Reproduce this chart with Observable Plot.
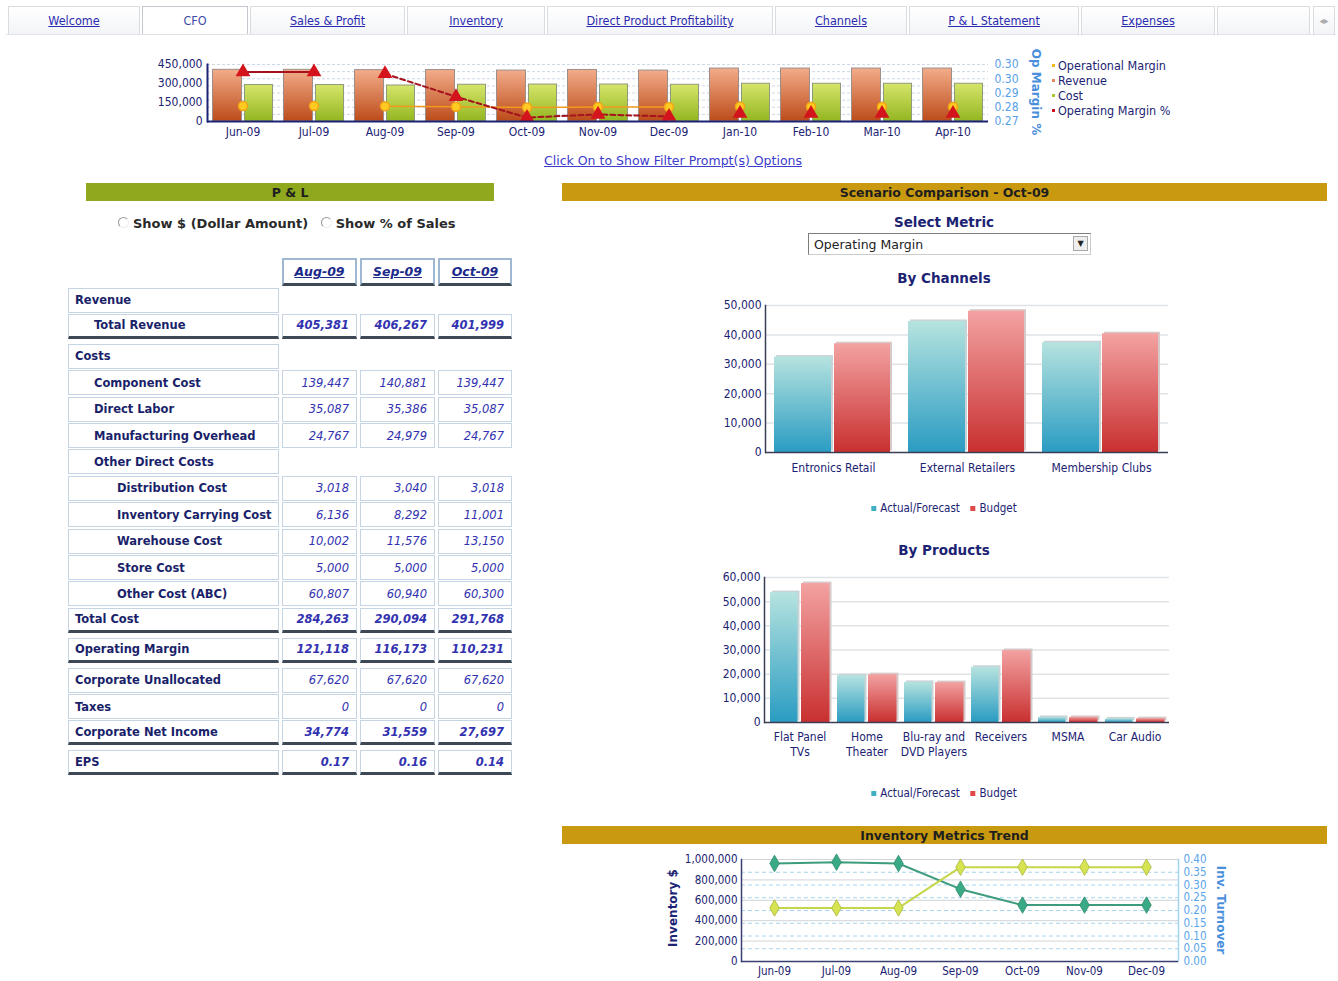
<!DOCTYPE html>
<html>
<head>
<meta charset="utf-8">
<script src="https://cdn.jsdelivr.net/npm/d3@7"></script>
<script src="https://cdn.jsdelivr.net/npm/@observablehq/plot@0.6"></script>
<style>
:root{--narrow:"Liberation Sans Narrow","DejaVu Sans Condensed","Roboto Condensed","Arial Narrow",Roboto,sans-serif;}
html,body{margin:0;padding:0;background:#fff;}
body{width:1338px;height:981px;position:relative;overflow:hidden;font-family:"DejaVu Sans",Verdana,sans-serif;}
.abs{position:absolute;}
.tab{position:absolute;top:6px;height:29px;box-sizing:border-box;border:1px solid #d9dde2;background:linear-gradient(#ffffff,#f2f4f6);display:flex;align-items:center;justify-content:center;font-family:var(--narrow);font-size:12.5px;color:#2b2bb0;}
.tab span{text-decoration:underline;}
.tab.sel{background:#fff;border-color:#c2c8ce;border-bottom-color:#fff;color:#3b4aa6;}
.tab.sel span{text-decoration:none;}
.hbar{position:absolute;height:18px;display:flex;align-items:center;justify-content:center;font-weight:bold;font-size:12.5px;color:#1e1e1e;}
.cell{position:absolute;box-sizing:border-box;height:25px;border:1px solid #c6d5e4;background:#fff;display:flex;align-items:center;color:#1a1f6a;}
.lab{font-weight:bold;font-size:11.5px;}
.val{justify-content:flex-end;padding-right:7px;font-style:italic;font-size:11.5px;color:#3232b0;}
.tot{border-bottom:3px solid #3f4855;}
.title{position:absolute;font-weight:bold;font-size:13.5px;color:#1b2372;transform:translate(-50%,-50%);white-space:nowrap;}
.leg{position:absolute;font-family:var(--narrow);font-size:11.5px;color:#1b2372;transform:translate(-50%,-50%);white-space:nowrap;display:flex;align-items:center;gap:4px;}
.sw{display:inline-block;width:5px;height:5px;}
.rot{position:absolute;white-space:nowrap;font-weight:bold;font-size:12px;}
</style>
</head>
<body>
<div id="tabs"></div>
<div id="topChart" class="abs" style="left:150px;top:52px;width:890px;height:92px;"></div>
<div id="topLegend" class="abs" style="left:1052px;top:58px;width:140px;"></div>
<div class="abs" style="left:0;width:1338px;top:153px;text-align:center;font-size:12.5px;color:#3b3bcc;"><span style="text-decoration:underline;position:relative;left:4px;">Click On to Show Filter Prompt(s) Options</span></div>

<div class="hbar" style="left:86px;top:183px;width:408px;background:#8fa81d;">P &amp; L</div>
<div class="abs" style="left:118px;top:216px;font-weight:bold;font-size:13px;color:#2a2a2a;white-space:nowrap;">
  <span style="display:inline-block;width:9px;height:9px;border-radius:50%;border:1px solid #999;border-right-color:#eee;border-bottom-color:#eee;margin-right:4px;"></span>Show $ (Dollar Amount)
  <span style="display:inline-block;width:9px;height:9px;border-radius:50%;border:1px solid #999;border-right-color:#eee;border-bottom-color:#eee;margin:0 4px 0 8px;"></span>Show % of Sales
</div>
<div id="pl"></div>

<div class="hbar" style="left:562px;top:183px;width:765px;background:#c9990f;">Scenario Comparison - Oct-09</div>
<div class="title" style="left:944px;top:222px;">Select Metric</div>
<div class="abs" style="left:808px;top:233px;width:283px;height:22px;box-sizing:border-box;border:1px solid #7d7d7d;border-right-color:#ccc;border-bottom-color:#ccc;background:#fff;font-size:12.5px;color:#222;display:flex;align-items:center;padding-left:5px;">Operating Margin
  <div style="position:absolute;right:2px;top:2px;width:15px;height:15px;box-sizing:border-box;border:1px solid #aaa;background:#eee;font-size:8px;display:flex;align-items:center;justify-content:center;">▼</div>
</div>
<div class="title" style="left:944px;top:278px;">By Channels</div>
<div id="chChart" class="abs" style="left:700px;top:290px;width:480px;height:190px;"></div>
<div id="chLegend"></div>
<div class="title" style="left:944px;top:550px;">By Products</div>
<div id="prChart" class="abs" style="left:700px;top:560px;width:480px;height:205px;"></div>
<div id="prLegend"></div>

<div class="hbar" style="left:562px;top:826px;width:765px;background:#c9990f;">Inventory Metrics Trend</div>
<div id="invChart" class="abs" style="left:600px;top:848px;width:640px;height:133px;"></div>
<div id="labels"></div>

<script>
const NAVY = "#1b2372";
const NARROW = `"Liberation Sans Narrow","DejaVu Sans Condensed","Roboto Condensed","Arial Narrow",Roboto,sans-serif`;

// ---------------- data ----------------
const tabs = ["Welcome", "CFO", "Sales & Profit", "Inventory", "Direct Product Profitability", "Channels", "P & L Statement", "Expenses"];
const selectedTab = "CFO";

const months = ["Jun-09", "Jul-09", "Aug-09", "Sep-09", "Oct-09", "Nov-09", "Dec-09", "Jan-10", "Feb-10", "Mar-10", "Apr-10"];
const revenue = [408000, 408000, 405381, 406267, 401999, 407000, 402000, 418000, 418000, 418000, 418000];
const cost = [288000, 288000, 284263, 290094, 291768, 292000, 290000, 298000, 298000, 298000, 298000];
const operationalMargin = [122000, 122000, 121118, 116173, 110231, 114000, 114000, 118000, 116000, 116000, 116000];
const operatingMarginPct = [0.2998, 0.2998, 0.2988, 0.2859, 0.2742, 0.2760, 0.2748, 0.2765, 0.2765, 0.2765, 0.2765];
const topLegend = ["Operational Margin", "Revenue", "Cost", "Operating Margin %"];
const revenueTicks = [0, 150000, 300000, 450000];

const plPeriods = ["Aug-09", "Sep-09", "Oct-09"];
const plLabels = ["Revenue", "Total Revenue", "Costs", "Component Cost", "Direct Labor", "Manufacturing Overhead", "Other Direct Costs", "Distribution Cost", "Inventory Carrying Cost", "Warehouse Cost", "Store Cost", "Other Cost (ABC)", "Total Cost", "Operating Margin", "Corporate Unallocated", "Taxes", "Corporate Net Income", "EPS"];
const plLevel = [0, 1, 0, 1, 1, 1, 1, 2, 2, 2, 2, 2, 0, 0, 0, 0, 0, 0];
const plTotal = [false, true, false, false, false, false, false, false, false, false, false, false, true, true, false, false, true, true];
const plAug = [null, 405381, null, 139447, 35087, 24767, null, 3018, 6136, 10002, 5000, 60807, 284263, 121118, 67620, 0, 34774, 0.17];
const plSep = [null, 406267, null, 140881, 35386, 24979, null, 3040, 8292, 11576, 5000, 60940, 290094, 116173, 67620, 0, 31559, 0.16];
const plOct = [null, 401999, null, 139447, 35087, 24767, null, 3018, 11001, 13150, 5000, 60300, 291768, 110231, 67620, 0, 27697, 0.14];

const seriesNames = ["Actual/Forecast", "Budget"];
const channels = ["Entronics Retail", "External Retailers", "Membership Clubs"];
const channelActual = [32450, 44570, 37340];
const channelBudget = [37000, 48070, 40400];
const channelTicks = [0, 10000, 20000, 30000, 40000, 50000];

const products = ["Flat Panel\nTVs", "Home\nTheater", "Blu-ray and\nDVD Players", "Receivers", "MSMA", "Car Audio"];
const productActual = [53760, 19400, 16600, 22850, 2100, 1500];
const productBudget = [57500, 19800, 16500, 29800, 2100, 1600];
const productTicks = [0, 10000, 20000, 30000, 40000, 50000, 60000];

const invMonths = ["Jun-09", "Jul-09", "Aug-09", "Sep-09", "Oct-09", "Nov-09", "Dec-09"];
const inventory = [961000, 974000, 961000, 709000, 553000, 553000, 553000];
const turnover = [0.21, 0.21, 0.21, 0.37, 0.37, 0.37, 0.37];
const inventoryTicks = [0, 200000, 400000, 600000, 800000, 1000000];
const turnoverTicks = [0, 0.05, 0.10, 0.15, 0.20, 0.25, 0.30, 0.35, 0.40];

// ---------------- helpers ----------------
function addDefs(svg, html) {
  const defs = document.createElementNS("http://www.w3.org/2000/svg", "defs");
  defs.innerHTML = html;
  svg.insertBefore(defs, svg.firstChild);
}
function vgrad(id, top, bottom) {
  return `<linearGradient id="${id}" x1="0" y1="0" x2="0" y2="1"><stop offset="0" stop-color="${top}"/><stop offset="1" stop-color="${bottom}"/></linearGradient>`;
}
function rotLabel(text, cx, cy, deg, color) {
  const d = document.createElement("div");
  d.className = "rot";
  d.textContent = text;
  d.style.left = cx + "px"; d.style.top = cy + "px"; d.style.color = color;
  d.style.transform = `translate(-50%,-50%) rotate(${deg}deg)`;
  document.getElementById("labels").appendChild(d);
}
function legend(id, cx, cy) {
  const el = document.getElementById(id);
  el.className = "leg";
  el.style.left = cx + "px"; el.style.top = cy + "px";
  el.innerHTML = `<span class="sw" style="background:#3fb0c4"></span>${seriesNames[0]}&nbsp;&nbsp;<span class="sw" style="background:#e04848"></span>${seriesNames[1]}`;
}

// ---------------- tabs ----------------
const tabLayout = [[8, 132], [142, 106], [250, 155], [407, 138], [547, 226], [775, 132], [909, 170], [1081, 134]];
const tabsEl = document.getElementById("tabs");
tabs.forEach((t, i) => {
  const d = document.createElement("div");
  d.className = "tab" + (t === selectedTab ? " sel" : "");
  d.style.left = tabLayout[i][0] + "px"; d.style.width = tabLayout[i][1] + "px";
  const s = document.createElement("span"); s.textContent = t; d.appendChild(s);
  tabsEl.appendChild(d);
});
{
  const f = document.createElement("div"); f.className = "tab";
  f.style.left = "1217px"; f.style.width = "93px"; tabsEl.appendChild(f);
  const sc = document.createElement("div"); sc.className = "tab";
  sc.style.left = "1313px"; sc.style.width = "22px"; sc.style.color = "#aaa"; sc.style.fontSize = "10px";
  sc.textContent = "◂▸"; tabsEl.appendChild(sc);
  const line = document.createElement("div"); line.className = "abs";
  Object.assign(line.style, {left: "6px", top: "34px", width: "1330px", height: "1px", background: "#dfe2e6"});
  tabsEl.appendChild(line);
}

// ---------------- top chart ----------------
const topRows = months.map((m, i) => ({month: m, revenue: revenue[i], cost: cost[i], margin: operationalMargin[i], pct: operatingMarginPct[i]}));
const yTop = revenueTicks[revenueTicks.length - 1];
const pctDomain = [0.272, 0.304];
const pctY = p => (p - pctDomain[0]) / (pctDomain[1] - pctDomain[0]) * yTop;
const pctTicks = d3.range(5).map(i => pctDomain[0] + i * (pctDomain[1] - pctDomain[0]) / 4);

const topChart = Plot.plot({
  width: 890, height: 92, marginLeft: 57, marginRight: 52, marginTop: 12, marginBottom: 23,
  style: {background: "transparent", fontFamily: NARROW, fontSize: "12px", overflow: "visible"},
  x: {domain: months, padding: 0},
  y: {domain: [0, yTop]},
  marks: [
    Plot.ruleY([...pctTicks.map(pctY), 56250, 168750, 281250, 393750], {stroke: "#ccd8e6", strokeDasharray: "3,2"}),
    Plot.barY(topRows, {x: "month", y: "revenue", fill: "url(#revGrad)", stroke: "#9c8e8a", insetLeft: 5.5, insetRight: 36.5}),
    Plot.barY(topRows, {x: "month", y: "cost", fill: "url(#costGrad)", stroke: "#8f9a7c", insetLeft: 37.5, insetRight: 5.5}),
    Plot.line(topRows.slice(2, 7), {x: "month", y: "margin", stroke: "#f29a1e", strokeWidth: 1.5}),
    Plot.line(topRows.slice(0, 2), {x: "month", y: d => pctY(d.pct), stroke: "#a5121e", strokeWidth: 2}),
    Plot.line(topRows.slice(2, 7), {x: "month", y: d => pctY(d.pct), stroke: "#a5121e", strokeWidth: 2, strokeDasharray: "5,3"}),
    Plot.dot(topRows, {x: "month", y: "margin", r: 4.5, fill: "#ffcb22", stroke: "#f2a416"}),
    Plot.dot(topRows, {x: "month", y: d => pctY(d.pct), symbol: "triangle", r: 5.5, fill: "#d3141d"}),
    Plot.ruleY([0], {stroke: NAVY, strokeWidth: 2}),
    Plot.frame({anchor: "left", stroke: NAVY, strokeWidth: 2}),
    Plot.axisY(revenueTicks, {anchor: "left", tickSize: 0, tickPadding: 5, tickFormat: d3.format(","), label: null, fill: NAVY}),
    Plot.axisY(pctTicks.map(pctY), {anchor: "right", tickSize: 0, tickPadding: 6, label: null, fill: "#58a0e8",
      tickFormat: d => d3.format(".2f")(pctDomain[0] + d / yTop * (pctDomain[1] - pctDomain[0]))}),
    Plot.axisX({tickSize: 0, tickPadding: 6, label: null, fill: NAVY})
  ]
});
addDefs(topChart, vgrad("revGrad", "#f3ac8a", "#bc4c1a") + vgrad("costGrad", "#d6e56a", "#93b620"));
document.getElementById("topChart").appendChild(topChart);

const legColors = ["#f2b61e", "#e8875a", "#a6c832", "#c8141d"];
document.getElementById("topLegend").innerHTML = topLegend.map((t, i) =>
  `<div style="height:15px;display:flex;align-items:center;font-family:${NARROW.replace(/"/g, "'")};font-size:12.5px;color:${NAVY};white-space:nowrap;"><span style="display:inline-block;width:3px;height:3px;background:${legColors[i]};margin-right:3px;"></span>${t}</div>`).join("");
rotLabel("Op Margin %", 1036, 92, 90, "#4a8fdc");

// ---------------- P&L table ----------------
const pl = document.getElementById("pl");
const colX = [282, 360, 438], colW = [75, 75, 74];
const plCols = [plAug, plSep, plOct];
plPeriods.forEach((p, j) => {
  const c = document.createElement("div");
  c.className = "cell tot";
  Object.assign(c.style, {left: colX[j] + "px", top: "258px", width: colW[j] + "px", height: "28px", justifyContent: "center",
    fontWeight: "bold", fontStyle: "italic", textDecoration: "underline", fontSize: "12.5px", color: "#1c2a8a", borderColor: "#9fb8d2", borderBottomColor: "#3f4855", borderWidth: "2px 2px 3px 2px"});
  c.textContent = p;
  pl.appendChild(c);
});
let thick = 0;
plLabels.forEach((lab, i) => {
  const top = 287.5 + i * 26.4 + thick * 3.5;
  const l = document.createElement("div");
  l.className = "cell lab" + (plTotal[i] ? " tot" : "");
  Object.assign(l.style, {left: "68px", top: top + "px", width: "211px", paddingLeft: (6 + plLevel[i] * 19 + (plLevel[i] === 2 ? 4 : 0)) + "px"});
  l.textContent = lab;
  pl.appendChild(l);
  plCols.forEach((col, j) => {
    const v = col[i];
    if (v === null) return;
    const c = document.createElement("div");
    c.className = "cell val" + (plTotal[i] ? " tot" : "");
    Object.assign(c.style, {left: colX[j] + "px", top: top + "px", width: colW[j] + "px", fontWeight: plTotal[i] ? "bold" : "normal"});
    c.textContent = lab === "EPS" ? v.toFixed(2) : d3.format(",")(v);
    pl.appendChild(c);
  });
  if (plTotal[i]) thick++;
});

// ---------------- grouped bar charts ----------------
function groupedBars(el, cats, actual, budget, ticks, o) {
  const rows = cats.map((c, i) => ({cat: c, actual: actual[i], budget: budget[i]}));
  const chart = Plot.plot({
    width: o.width, height: o.height, marginLeft: o.ml, marginRight: o.mr, marginTop: o.mt, marginBottom: o.mb,
    style: {background: "transparent", fontFamily: NARROW, fontSize: "12px", overflow: "visible"},
    x: {domain: cats, padding: 0},
    y: {domain: [0, ticks[ticks.length - 1]]},
    marks: [
      Plot.ruleY(ticks.slice(1), {stroke: "#dfe3e6", strokeWidth: 1.5}),
      Plot.barY(rows, {x: "cat", y: "actual", fill: "#c9d3d6", dx: 2, dy: -1.5, insetLeft: o.a[0], insetRight: o.a[1]}),
      Plot.barY(rows, {x: "cat", y: "budget", fill: "#d6c9c9", dx: 2, dy: -1.5, insetLeft: o.b[0], insetRight: o.b[1]}),
      Plot.barY(rows, {x: "cat", y: "actual", fill: "url(#tealGrad)", insetLeft: o.a[0], insetRight: o.a[1]}),
      Plot.barY(rows, {x: "cat", y: "budget", fill: "url(#redGrad)", insetLeft: o.b[0], insetRight: o.b[1]}),
      Plot.ruleY([0], {stroke: "#3a3f55", strokeWidth: 1.5}),
      Plot.frame({anchor: "left", stroke: "#3a3f55", strokeWidth: 1.5}),
      Plot.axisY(ticks, {tickSize: 0, tickPadding: 4, tickFormat: d3.format(","), label: null, fill: NAVY}),
      Plot.axisX({tickSize: 0, tickPadding: o.tp, label: null, fill: NAVY, lineHeight: 1.25})
    ]
  });
  addDefs(chart, vgrad("tealGrad", "#b6e3df", "#2a9cc2") + vgrad("redGrad", "#f3a2a2", "#c93030"));
  document.getElementById(el).appendChild(chart);
}
groupedBars("chChart", channels, channelActual, channelBudget, channelTicks,
  {width: 480, height: 190, ml: 65, mr: 12, mt: 15, mb: 28, a: [8, 69], b: [68, 10], tp: 9});
legend("chLegend", 944, 508);
groupedBars("prChart", products, productActual, productBudget, productTicks,
  {width: 480, height: 205, ml: 64, mr: 11, mt: 17, mb: 43, a: [4, 35.5], b: [35, 3.5], tp: 8});
legend("prLegend", 944, 793);

// ---------------- inventory chart ----------------
const invRows = invMonths.map((m, i) => ({month: m, inventory: inventory[i], turnover: turnover[i]}));
const invMax = inventoryTicks[inventoryTicks.length - 1];
const turnMax = turnoverTicks[turnoverTicks.length - 1];
const tY = t => t / turnMax * invMax;
const invChart = Plot.plot({
  width: 640, height: 133, marginLeft: 141, marginRight: 62, marginTop: 11, marginBottom: 20,
  style: {background: "transparent", fontFamily: NARROW, fontSize: "11.5px", overflow: "visible"},
  x: {type: "point", domain: invMonths, padding: 0.5},
  y: {domain: [0, invMax]},
  marks: [
    Plot.ruleY(turnoverTicks.slice(1).map(tY), {stroke: "#a6d4f0", strokeDasharray: "4,3"}),
    Plot.ruleY(inventoryTicks.slice(1), {stroke: "#d2d4d6"}),
    Plot.line(invRows, {x: "month", y: "inventory", stroke: "#3d9c7e", strokeWidth: 2}),
    Plot.line(invRows, {x: "month", y: d => tY(d.turnover), stroke: "#c5d64a", strokeWidth: 2}),
    Plot.dot(invRows, {x: "month", y: "inventory", symbol: "diamond", r: 5, fill: "#3aaa86", stroke: "#2e8a6c", strokeWidth: 0.8}),
    Plot.dot(invRows, {x: "month", y: d => tY(d.turnover), symbol: "diamond", r: 5, fill: "#d6e352", stroke: "#aab83a", strokeWidth: 0.8}),
    Plot.frame({anchor: "right", stroke: "#a6d4f0", strokeWidth: 1.5}),
    Plot.frame({anchor: "left", stroke: "#3a3f70", strokeWidth: 1.5}),
    Plot.ruleY([0], {stroke: "#3a3f70", strokeWidth: 1.5}),
    Plot.axisY(inventoryTicks, {anchor: "left", tickSize: 0, tickPadding: 4, tickFormat: d3.format(","), label: null, fill: NAVY}),
    Plot.axisY(turnoverTicks.map(tY), {anchor: "right", tickSize: 0, tickPadding: 5, label: null, fill: "#5aa4ea",
      tickFormat: d => d3.format(".2f")(d / invMax * turnMax)}),
    Plot.axisX({tickSize: 0, tickPadding: 5, label: null, fill: NAVY})
  ]
});
document.getElementById("invChart").appendChild(invChart);
rotLabel("Inventory $", 673, 908, -90, NAVY);
rotLabel("Inv. Turnover", 1221, 910, 90, "#4a8fdc");
</script>
</body>
</html>
